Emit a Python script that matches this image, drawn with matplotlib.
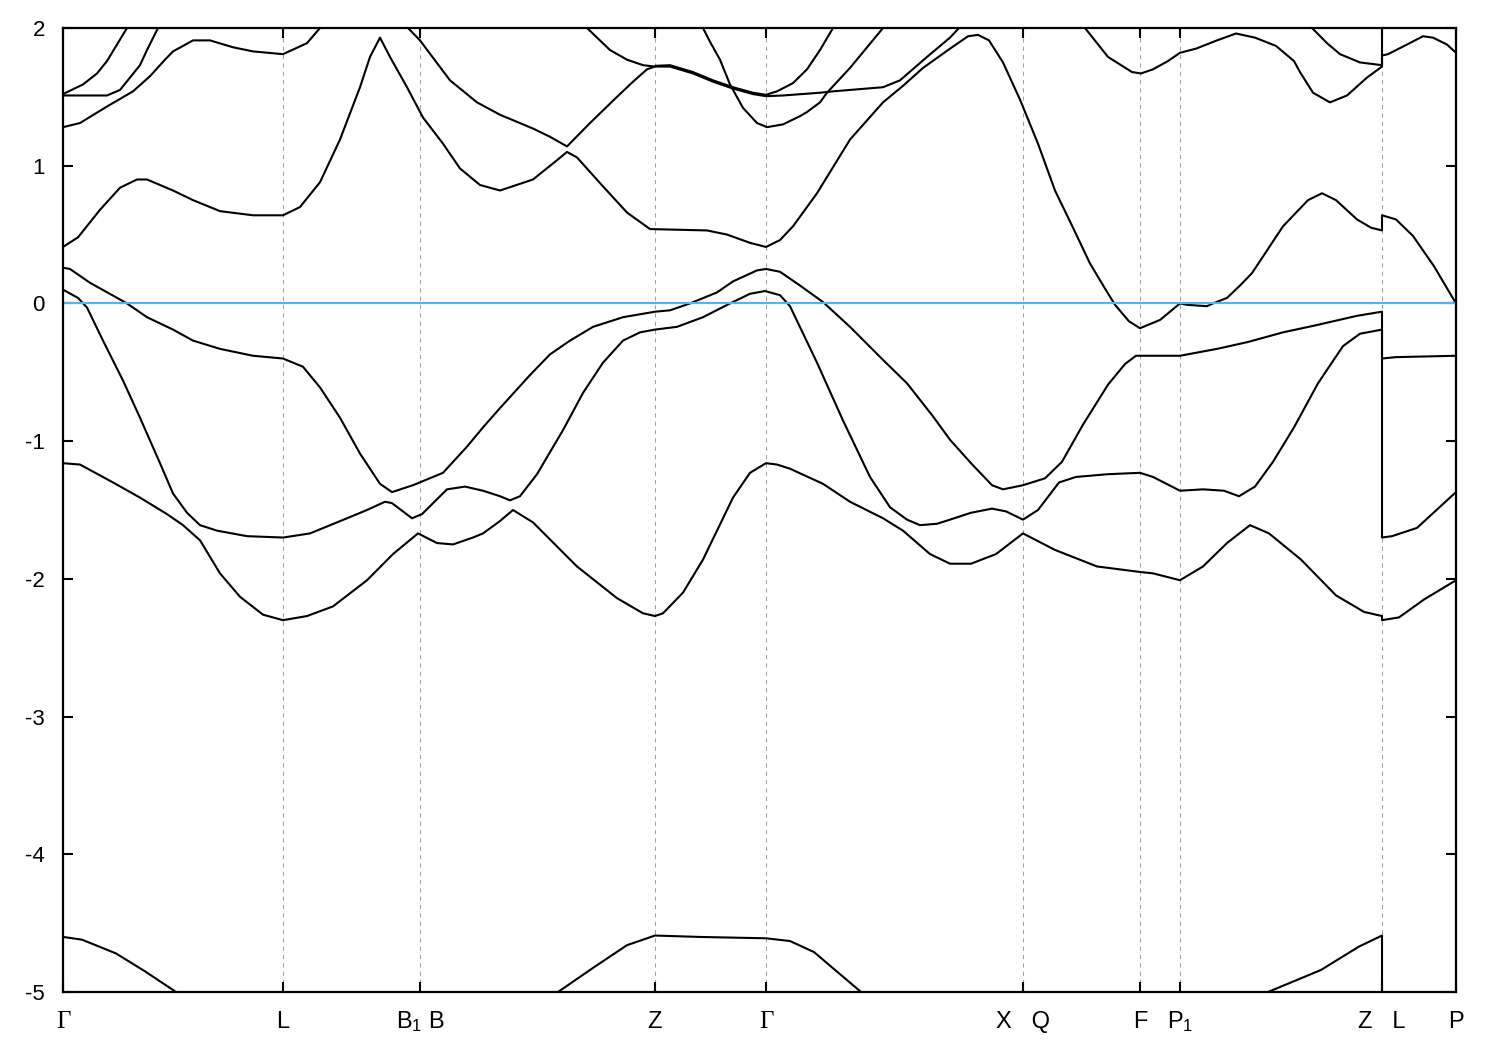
import numpy as np
import matplotlib
matplotlib.use('Agg')
import matplotlib.pyplot as plt

plt.rcParams['font.family'] = ['Liberation Sans', 'DejaVu Sans']
plt.rcParams['mathtext.fontset'] = 'custom'
plt.rcParams['mathtext.rm'] = 'Liberation Sans'
plt.rcParams['mathtext.it'] = 'Liberation Sans'
plt.rcParams['axes.unicode_minus'] = False

# high-symmetry points along the k-path
kpoint_pos = [0.00, 2.20, 3.57, 5.92, 7.03, 9.60, 10.77, 11.17, 13.19, 13.93]
kpoint_labels = ['Γ', 'L', 'B$_1$ B', 'Z', 'Γ', 'X   Q', 'F', 'P$_1$', 'Z   L', 'P']
energy_ticks = [-5, -4, -3, -2, -1, 0, 1, 2]

# band energies (k, E in eV)
band_A1 = [(0.00, -4.60), (0.19, -4.62), (0.53, -4.72), (0.82, -4.85), (1.11, -4.99), (1.30, -5.10)]
band_A2 = [(4.70, -5.15), (4.95, -5.00), (5.31, -4.82), (5.64, -4.66), (5.92, -4.59), (6.36, -4.60),
           (7.03, -4.61), (7.27, -4.63), (7.51, -4.71), (7.98, -5.00), (8.20, -5.12)]
band_A3 = [(11.80, -5.15), (12.05, -5.00), (12.58, -4.84), (12.96, -4.67), (13.19, -4.59), (13.19, -5.30)]

band_B = [(0.00, -1.16), (0.17, -1.17), (0.50, -1.30), (0.77, -1.41), (1.04, -1.53), (1.20, -1.61),
          (1.37, -1.72), (1.57, -1.96), (1.77, -2.13), (2.00, -2.26), (2.20, -2.30), (2.44, -2.27),
          (2.70, -2.20), (3.04, -2.01), (3.30, -1.82), (3.55, -1.67), (3.74, -1.74), (3.90, -1.75),
          (4.10, -1.70), (4.20, -1.67), (4.37, -1.58), (4.50, -1.50), (4.70, -1.59), (5.14, -1.91),
          (5.54, -2.14), (5.80, -2.25), (5.92, -2.27), (6.00, -2.25), (6.20, -2.10), (6.40, -1.86),
          (6.70, -1.41), (6.87, -1.23), (7.03, -1.16), (7.14, -1.17), (7.27, -1.20), (7.60, -1.31),
          (7.87, -1.44), (8.20, -1.56), (8.40, -1.65), (8.67, -1.82), (8.87, -1.89), (9.08, -1.89),
          (9.33, -1.82), (9.60, -1.67), (9.92, -1.79), (10.34, -1.91), (10.77, -1.95), (10.90, -1.96),
          (11.17, -2.01), (11.40, -1.91), (11.64, -1.74), (11.87, -1.61), (12.06, -1.67), (12.38, -1.86),
          (12.73, -2.12), (13.01, -2.24), (13.19, -2.27), (13.19, -2.30), (13.36, -2.28), (13.61, -2.15),
          (13.93, -2.01)]

band_C = [(0.00, 0.10), (0.15, 0.04), (0.24, -0.03), (0.40, -0.27), (0.60, -0.56), (0.77, -0.83),
          (0.97, -1.16), (1.10, -1.38), (1.24, -1.52), (1.37, -1.61), (1.54, -1.65), (1.84, -1.69),
          (2.20, -1.70), (2.47, -1.67), (2.74, -1.59), (3.04, -1.50), (3.22, -1.44), (3.29, -1.45),
          (3.49, -1.56), (3.59, -1.53), (3.84, -1.35), (4.02, -1.33), (4.20, -1.36), (4.37, -1.40),
          (4.47, -1.43), (4.57, -1.40), (4.74, -1.24), (5.00, -0.92), (5.20, -0.65), (5.40, -0.43),
          (5.60, -0.27), (5.77, -0.21), (5.92, -0.19), (6.14, -0.17), (6.40, -0.10), (6.67, 0.00),
          (6.87, 0.07), (7.02, 0.09), (7.17, 0.06), (7.27, -0.02), (7.54, -0.43), (7.80, -0.85),
          (8.07, -1.26), (8.27, -1.48), (8.44, -1.57), (8.57, -1.61), (8.74, -1.60), (8.87, -1.57),
          (9.08, -1.52), (9.29, -1.49), (9.43, -1.51), (9.60, -1.57), (9.75, -1.50), (9.96, -1.30),
          (10.13, -1.26), (10.45, -1.24), (10.77, -1.23), (10.90, -1.26), (11.17, -1.36), (11.40, -1.35),
          (11.61, -1.36), (11.76, -1.40), (11.92, -1.33), (12.10, -1.15), (12.31, -0.90), (12.55, -0.58),
          (12.67, -0.45), (12.80, -0.31), (12.97, -0.22), (13.19, -0.19), (13.19, -1.70), (13.29, -1.69),
          (13.54, -1.63), (13.93, -1.37)]

band_D = [(0.00, 0.26), (0.07, 0.25), (0.27, 0.15), (0.64, 0.00), (0.84, -0.10), (1.10, -0.19),
          (1.30, -0.27), (1.57, -0.33), (1.90, -0.38), (2.20, -0.40), (2.40, -0.46), (2.57, -0.61),
          (2.77, -0.83), (2.97, -1.09), (3.17, -1.31), (3.29, -1.37), (3.50, -1.32), (3.80, -1.23),
          (4.04, -1.04), (4.20, -0.90), (4.37, -0.76), (4.47, -0.68), (4.67, -0.52), (4.87, -0.37),
          (5.07, -0.27), (5.30, -0.17), (5.60, -0.10), (5.92, -0.06), (6.07, -0.05), (6.27, 0.00),
          (6.54, 0.08), (6.70, 0.16), (6.94, 0.24), (7.03, 0.25), (7.17, 0.23), (7.37, 0.13),
          (7.60, 0.01), (7.87, -0.17), (8.20, -0.41), (8.44, -0.58), (8.70, -0.82), (8.87, -0.99),
          (9.08, -1.16), (9.29, -1.32), (9.40, -1.35), (9.60, -1.32), (9.82, -1.27), (9.99, -1.15),
          (10.20, -0.88), (10.45, -0.59), (10.62, -0.44), (10.73, -0.38), (10.77, -0.38), (11.17, -0.38),
          (11.54, -0.33), (11.85, -0.28), (12.20, -0.21), (12.52, -0.16), (12.94, -0.09), (13.19, -0.06),
          (13.19, -0.40), (13.33, -0.39), (13.93, -0.38)]

band_E = [(0.00, 0.41), (0.15, 0.48), (0.37, 0.68), (0.57, 0.84), (0.74, 0.90), (0.84, 0.90),
          (1.10, 0.82), (1.30, 0.75), (1.57, 0.67), (1.90, 0.64), (2.20, 0.64), (2.37, 0.70),
          (2.57, 0.88), (2.77, 1.19), (2.97, 1.57), (3.07, 1.79), (3.17, 1.93), (3.27, 1.79),
          (3.44, 1.57), (3.60, 1.35), (3.80, 1.16), (3.97, 0.98), (4.17, 0.86), (4.37, 0.82),
          (4.70, 0.90), (4.94, 1.04), (5.04, 1.10), (5.14, 1.06), (5.40, 0.85), (5.64, 0.66),
          (5.87, 0.54), (6.44, 0.53), (6.64, 0.50), (6.87, 0.44), (7.03, 0.41), (7.17, 0.46),
          (7.30, 0.56), (7.54, 0.80), (7.87, 1.19), (8.20, 1.46), (8.40, 1.58), (8.60, 1.71),
          (8.87, 1.85), (9.05, 1.94), (9.15, 1.95), (9.26, 1.91), (9.40, 1.75), (9.57, 1.48),
          (9.75, 1.16), (9.92, 0.82), (10.10, 0.55), (10.27, 0.29), (10.41, 0.12), (10.52, -0.01),
          (10.66, -0.13), (10.77, -0.18), (10.97, -0.12), (11.17, 0.00), (11.24, -0.01), (11.44, -0.02),
          (11.50, 0.00), (11.64, 0.04), (11.77, 0.13), (11.89, 0.22), (12.20, 0.56), (12.45, 0.75),
          (12.59, 0.80), (12.73, 0.75), (12.94, 0.61), (13.08, 0.55), (13.19, 0.53), (13.19, 0.64),
          (13.33, 0.61), (13.50, 0.49), (13.71, 0.27), (13.93, 0.00)]

band_F1 = [(0.00, 1.28), (0.17, 1.31), (0.44, 1.43), (0.70, 1.54), (0.87, 1.65), (1.02, 1.77),
           (1.10, 1.83), (1.30, 1.91), (1.47, 1.91), (1.70, 1.86), (1.90, 1.83), (2.20, 1.81),
           (2.44, 1.89), (2.57, 2.00), (2.70, 2.12)]

band_F2 = [(3.35, 2.12), (3.45, 2.00), (3.57, 1.91), (3.87, 1.62), (4.14, 1.46), (4.37, 1.37),
           (4.70, 1.27), (4.87, 1.21), (5.04, 1.14), (5.27, 1.31), (5.54, 1.50), (5.70, 1.61),
           (5.84, 1.70), (5.92, 1.72), (6.07, 1.72), (6.30, 1.67), (6.50, 1.61), (6.70, 1.56),
           (6.90, 1.52), (7.03, 1.505), (7.20, 1.51), (7.57, 1.53), (7.70, 1.54), (8.20, 1.57),
           (8.37, 1.62), (8.64, 1.79), (8.87, 1.93), (8.96, 2.00), (9.05, 2.10)]

band_F2b = [(5.92, 1.725), (6.07, 1.73), (6.30, 1.68), (6.50, 1.62), (6.70, 1.57), (6.90, 1.53),
            (7.03, 1.515), (7.14, 1.54), (7.30, 1.60), (7.44, 1.70), (7.57, 1.84), (7.70, 2.00),
            (7.77, 2.10)]

band_G1 = [(5.17, 2.10), (5.24, 2.00), (5.47, 1.84), (5.64, 1.77), (5.80, 1.73), (5.92, 1.72)]

band_H = [(6.33, 2.10), (6.40, 2.00), (6.47, 1.90), (6.57, 1.77), (6.67, 1.59), (6.80, 1.42),
          (6.94, 1.31), (7.04, 1.28), (7.20, 1.30), (7.37, 1.36), (7.44, 1.39), (7.57, 1.46),
          (7.64, 1.53), (7.87, 1.71), (8.20, 2.00), (8.27, 2.10)]

band_G0 = [(0.00, 1.52), (0.20, 1.59), (0.34, 1.67), (0.44, 1.76), (0.64, 2.00), (0.70, 2.10)]

band_H0 = [(0.00, 1.51), (0.44, 1.51), (0.57, 1.55), (0.67, 1.64), (0.77, 1.73), (0.84, 1.84),
           (0.95, 2.00), (1.00, 2.08)]

band_F3 = [(10.17, 2.10), (10.22, 2.00), (10.45, 1.79), (10.69, 1.68), (10.78, 1.67), (10.90, 1.70),
           (11.05, 1.76), (11.17, 1.82), (11.33, 1.85), (11.54, 1.91), (11.73, 1.96), (11.92, 1.93),
           (12.13, 1.87), (12.31, 1.76), (12.37, 1.68), (12.50, 1.53), (12.67, 1.46), (12.84, 1.51),
           (13.04, 1.64), (13.19, 1.72), (13.19, 1.80), (13.25, 1.81), (13.44, 1.88), (13.60, 1.94),
           (13.70, 1.93), (13.84, 1.88), (13.93, 1.82)]

band_G3 = [(12.42, 2.10), (12.49, 2.00), (12.64, 1.89), (12.77, 1.81), (12.97, 1.75), (13.19, 1.73),
           (13.19, 2.10)]

bands = [band_A1, band_A2, band_A3, band_B, band_C, band_D, band_E, band_F1, band_F2, band_F2b,
         band_G1, band_H, band_G0, band_H0, band_F3, band_G3]

fig = plt.figure(figsize=(15, 10.5), dpi=100)
ax = fig.add_axes([63 / 1500, 1 - 992 / 1050, (1456 - 63) / 1500, (992 - 28) / 1050])

for kp in kpoint_pos[1:-1]:
    ax.axvline(kp, color='#a0a0a0', lw=0.75, dashes=(4, 4), zorder=1)

for b in bands:
    arr = np.array(b)
    ax.plot(arr[:, 0], arr[:, 1], color='black', lw=1.5, zorder=2,
            solid_joinstyle='round', solid_capstyle='butt')

ax.axhline(0, color='#56b4e9', lw=1.6, zorder=3)

ax.set_xlim(kpoint_pos[0], kpoint_pos[-1])
ax.set_ylim(-5, 2)
ax.set_xticks(kpoint_pos)
ax.set_xticklabels(kpoint_labels)
ax.set_yticks(energy_ticks)
ax.set_yticklabels([str(v) for v in energy_ticks])

ax.tick_params(axis='both', direction='in', length=7, width=1.5, top=True, right=True,
               labelsize=16, colors='black')
ax.tick_params(axis='x', pad=26, labelsize=17)
ax.tick_params(axis='y', pad=13)

for lbl in ax.get_xticklabels():
    lbl.set_verticalalignment('baseline')
    if lbl.get_text() == 'Γ':
        lbl.set_fontfamily(['Liberation Serif', 'DejaVu Serif'])
        lbl.set_fontsize(18)

for sp in ax.spines.values():
    sp.set_linewidth(1.6)
    sp.set_color('black')
    sp.set_zorder(4)

fig.savefig('out.png', dpi=100)
